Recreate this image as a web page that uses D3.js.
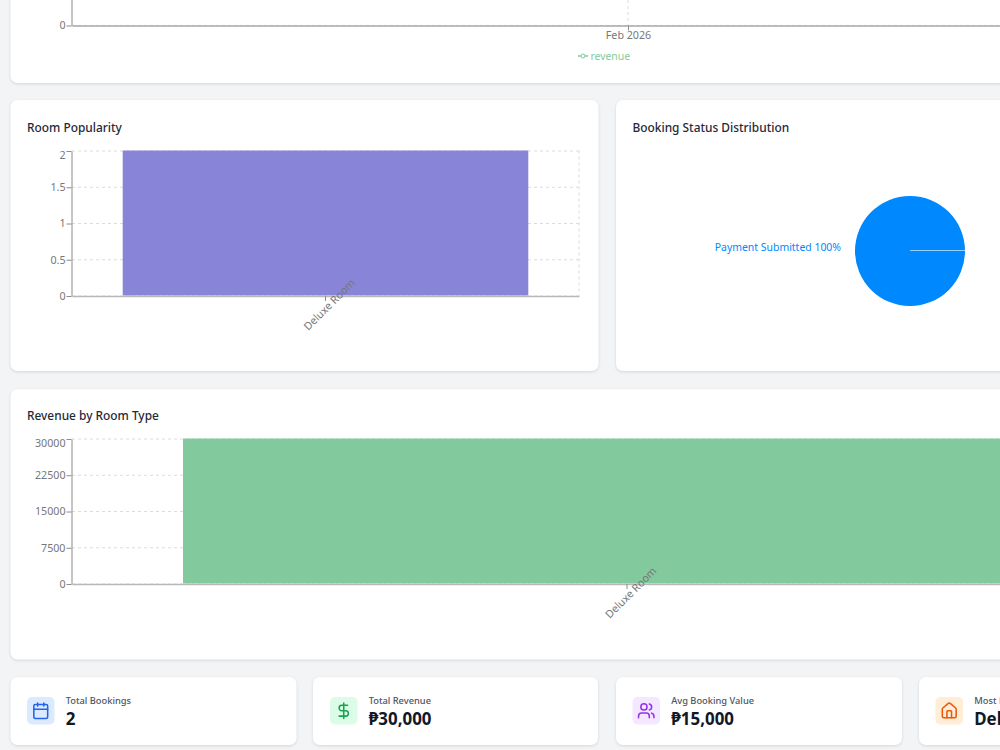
<!DOCTYPE html>
<html>
<head>
<meta charset="utf-8">
<script src="https://cdn.jsdelivr.net/npm/d3@7/dist/d3.min.js"></script>
<style>
  html, body { margin: 0; padding: 0; width: 1000px; height: 750px; overflow: hidden; background: #f3f4f6; }
  svg { display: block; font-family: "Noto Sans", sans-serif; }
  .card { fill: #fff; filter: drop-shadow(0 1px 1.5px rgba(0,0,0,.12)); }
  .grid line { stroke: #dcdcdc; stroke-dasharray: 3 3; stroke-width: 1; }
  .axis path, .axis line { stroke: #8c8c8c; stroke-width: 1; }
  .axis text { fill: #777; font-size: 10.7px; font-family: "Noto Sans", sans-serif; }
  .title { font-size: 11.9px; font-weight: 550; fill: #1f2937; }
  .stat-label { font-size: 9.3px; font-weight: 500; fill: #4b5563; }
  .stat-value { font-size: 16.9px; font-weight: 700; fill: #111827; }
</style>
</head>
<body>
<svg id="dash" width="1000" height="750"></svg>
<script>
// Dashboard data
const months = ["Feb 2026"];
const monthlyRevenue = [30000];
const revenueTicks = [0, 7500, 15000, 22500, 30000];

const roomTypes = ["Deluxe Room"];
const roomBookings = [2];
const bookingTicks = [0, 0.5, 1, 1.5, 2];
const roomRevenue = [30000];

const statuses = ["Payment Submitted"];
const statusCounts = [2];

const statLabels = ["Total Bookings", "Total Revenue", "Avg Booking Value", "Most Popular Room"];
const statValues = ["2", "₱30,000", "₱15,000", "Deluxe Room"];

const GREEN = "#82ca9d", PURPLE = "#8884d8", BLUE = "#0088FE";
const svg = d3.select("#dash");

// Panels
const panels = [
  { x: 10.5, y: -400, w: 1200, h: 483 },
  { x: 10.5, y: 100, w: 588, h: 271 },
  { x: 616, y: 100, w: 588, h: 271 },
  { x: 10.5, y: 389, w: 1200, h: 270.5 },
  { x: 10.5, y: 677, w: 286, h: 68 },
  { x: 313, y: 677, w: 285, h: 68 },
  { x: 616, y: 677, w: 286, h: 68 },
  { x: 919, y: 677, w: 286, h: 68 }
];
svg.selectAll("rect.card").data(panels).join("rect").attr("class", "card")
  .attr("x", d => d.x).attr("y", d => d.y).attr("width", d => d.w).attr("height", d => d.h)
  .attr("rx", 7);

const title = (text, x, y) => svg.append("text").attr("class", "title").attr("x", x).attr("y", y).text(text);
title("Room Popularity", 27, 131.5);
title("Booking Status Distribution", 632.5, 131.5);
title("Revenue by Room Type", 27, 419.5);

// Shared y-axis and grid drawing; the top tick label is nudged down to stay inside the plot
function yAxis(g, scale, ticks, x0, x1, nudgeTop) {
  const grid = g.append("g").attr("class", "grid");
  grid.selectAll("line.h").data(ticks.filter(d => scale(d) >= 0)).join("line").attr("class", "h")
    .attr("x1", x0).attr("x2", x1).attr("y1", d => scale(d) + .5).attr("y2", d => scale(d) + .5);
  return () => {
    const ax = g.append("g").attr("class", "axis").attr("transform", `translate(${x0 - .5},.5)`)
      .call(d3.axisLeft(scale).tickValues(ticks).tickFormat(d => d).tickSize(5).tickSizeOuter(0).tickPadding(1));
    ax.selectAll(".tick").filter(d => scale(d) < 0).remove();
    if (nudgeTop) ax.selectAll(".tick").filter(d => d === ticks[ticks.length - 1]).select("text").attr("dy", ".7em");
  };
}

// Vertical bar chart with one rotated category label
function barChart({ x0, x1, yTop, yBottom, cats, vals, ticks, color }) {
  const g = svg.append("g");
  const x = d3.scaleBand().domain(cats).range([x0, x1]).paddingInner(.2).paddingOuter(.1);
  const y = d3.scaleLinear().domain([ticks[0], ticks[ticks.length - 1]]).range([yBottom, yTop]);
  const finishY = yAxis(g, y, ticks, x0, x1, true);
  const centers = cats.map(c => x(c) + x.bandwidth() / 2);
  g.select(".grid").selectAll("line.v").data([...centers, x1]).join("line").attr("class", "v")
    .attr("x1", d => d).attr("x2", d => d).attr("y1", yTop).attr("y2", yBottom);
  g.selectAll("rect.bar").data(cats).join("rect").attr("class", "bar")
    .attr("x", c => x(c)).attr("width", x.bandwidth())
    .attr("y", (c, i) => y(vals[i])).attr("height", (c, i) => yBottom - y(vals[i]))
    .attr("fill", color);
  finishY();
  const ax = g.append("g").attr("class", "axis").attr("transform", `translate(0,${yBottom + .5})`)
    .call(d3.axisBottom(x).tickSize(5).tickSizeOuter(0));
  ax.select("path").style("stroke", "#b8b8b8").style("stroke-width", 1.5);
  ax.selectAll(".tick text")
    .attr("text-anchor", "middle").attr("y", 0).attr("dy", ".32em")
    .attr("transform", "translate(4,9) rotate(-45)");
}

barChart({ x0: 72, x1: 579, yTop: 150.5, yBottom: 295.5, cats: roomTypes, vals: roomBookings, ticks: bookingTicks, color: PURPLE });
barChart({ x0: 72, x1: 1182, yTop: 438.5, yBottom: 583.5, cats: roomTypes, vals: roomRevenue, ticks: revenueTicks, color: GREEN });

// Monthly revenue line chart, scrolled so only its baseline is in view
(function () {
  const g = svg.append("g");
  const x0 = 72, x1 = 1184, yTop = -120, yBottom = 25;
  const x = d3.scalePoint().domain(months).range([x0, x1]).padding(.5);
  const y = d3.scaleLinear().domain([0, 30000]).range([yBottom, yTop]);
  const finishY = yAxis(g, y, revenueTicks, x0, x1, false);
  g.select(".grid").selectAll("line.v").data(months).join("line").attr("class", "v")
    .attr("x1", d => x(d)).attr("x2", d => x(d)).attr("y1", yTop).attr("y2", yBottom);
  g.append("path").attr("fill", "none").attr("stroke", GREEN).attr("stroke-width", 2)
    .attr("d", d3.line().x((d, i) => x(months[i])).y(d => y(d))(monthlyRevenue));
  g.selectAll("circle").data(monthlyRevenue).join("circle")
    .attr("cx", (d, i) => x(months[i])).attr("cy", d => y(d)).attr("r", 3)
    .attr("fill", "#fff").attr("stroke", GREEN);
  finishY();
  const ax = g.append("g").attr("class", "axis").attr("transform", `translate(0,${yBottom + .5})`)
    .call(d3.axisBottom(x).tickSize(5).tickSizeOuter(0).tickPadding(1));
  ax.select("path").style("stroke", "#a8a8a8").style("stroke-width", 1.5);
  // legend
  const lg = svg.append("g").attr("transform", "translate(578,56)");
  lg.append("line").attr("x1", 0).attr("x2", 10).attr("stroke", GREEN).attr("stroke-width", 1.5);
  lg.append("circle").attr("cx", 5).attr("r", 2).attr("fill", "#fff").attr("stroke", GREEN);
  lg.append("text").attr("x", 12.5).attr("y", 3.5).attr("fill", GREEN).attr("font-size", 10.4).text("revenue");
})();

// Status pie, starting at three o'clock
(function () {
  const cx = 910, cy = 251, r = 55;
  const g = svg.append("g").attr("transform", `translate(${cx},${cy})`);
  const start = Math.PI / 2;
  const arcs = d3.pie().sort(null).startAngle(start).endAngle(start + 2 * Math.PI)(statusCounts);
  const arc = d3.arc().innerRadius(0).outerRadius(r);
  g.selectAll("path").data(arcs).join("path").attr("d", arc).attr("fill", BLUE);
  g.selectAll("line").data(arcs).join("line")
    .attr("x1", 0).attr("y1", -.5)
    .attr("x2", d => r * Math.sin(d.startAngle)).attr("y2", d => -r * Math.cos(d.startAngle) - .5)
    .attr("stroke", "#fff").attr("stroke-width", 1).attr("opacity", .6);
  const total = d3.sum(statusCounts);
  svg.append("text").attr("x", 841).attr("y", 251).attr("text-anchor", "end")
    .attr("fill", BLUE).attr("font-size", 10.45)
    .text(`${statuses[0]} ${Math.round(statusCounts[0] / total * 100)}%`);
})();

// Summary tiles
const tileIcons = [
  { bg: "#dbeafe", fg: "#2563eb", paths: ["M8 2v4", "M16 2v4", "M3 10h18", "M5 4h14a2 2 0 0 1 2 2v14a2 2 0 0 1-2 2H5a2 2 0 0 1-2-2V6a2 2 0 0 1 2-2z"] },
  { bg: "#dcfce7", fg: "#16a34a", paths: ["M12 2v20", "M17 5H9.5a3.5 3.5 0 0 0 0 7h5a3.5 3.5 0 0 1 0 7H6"] },
  { bg: "#f3e8ff", fg: "#9333ea", paths: ["M16 21v-2a4 4 0 0 0-4-4H6a4 4 0 0 0-4 4v2", "M9 3a4 4 0 1 0 0 8 4 4 0 0 0 0-8z", "M22 21v-2a4 4 0 0 0-3-3.87", "M16 3.13a4 4 0 0 1 0 7.75"] },
  { bg: "#ffedd5", fg: "#ea580c", paths: ["M15 21v-8a1 1 0 0 0-1-1h-4a1 1 0 0 0-1 1v8", "M3 10a2 2 0 0 1 .709-1.528l7-5.999a2 2 0 0 1 2.582 0l7 5.999A2 2 0 0 1 21 10v9a2 2 0 0 1-2 2H5a2 2 0 0 1-2-2z"] }
];
const tileX = [27, 330, 632.5, 935.5];
tileX.forEach((tx, i) => {
  const g = svg.append("g").attr("transform", `translate(${tx},697)`);
  g.append("rect").attr("width", 27.5).attr("height", 27.5).attr("rx", 5).attr("fill", tileIcons[i].bg);
  const ic = g.append("g").attr("transform", "translate(4.5,4.5) scale(.77)")
    .attr("fill", "none").attr("stroke", tileIcons[i].fg).attr("stroke-width", 2)
    .attr("stroke-linecap", "round").attr("stroke-linejoin", "round");
  tileIcons[i].paths.forEach(p => ic.append("path").attr("d", p));
  g.append("text").attr("class", "stat-label").attr("x", 38.7).attr("y", 6.7).text(statLabels[i]);
  g.append("text").attr("class", "stat-value").attr("x", 38.7).attr("y", 28).text(statValues[i]);
});
</script>
</body>
</html>
